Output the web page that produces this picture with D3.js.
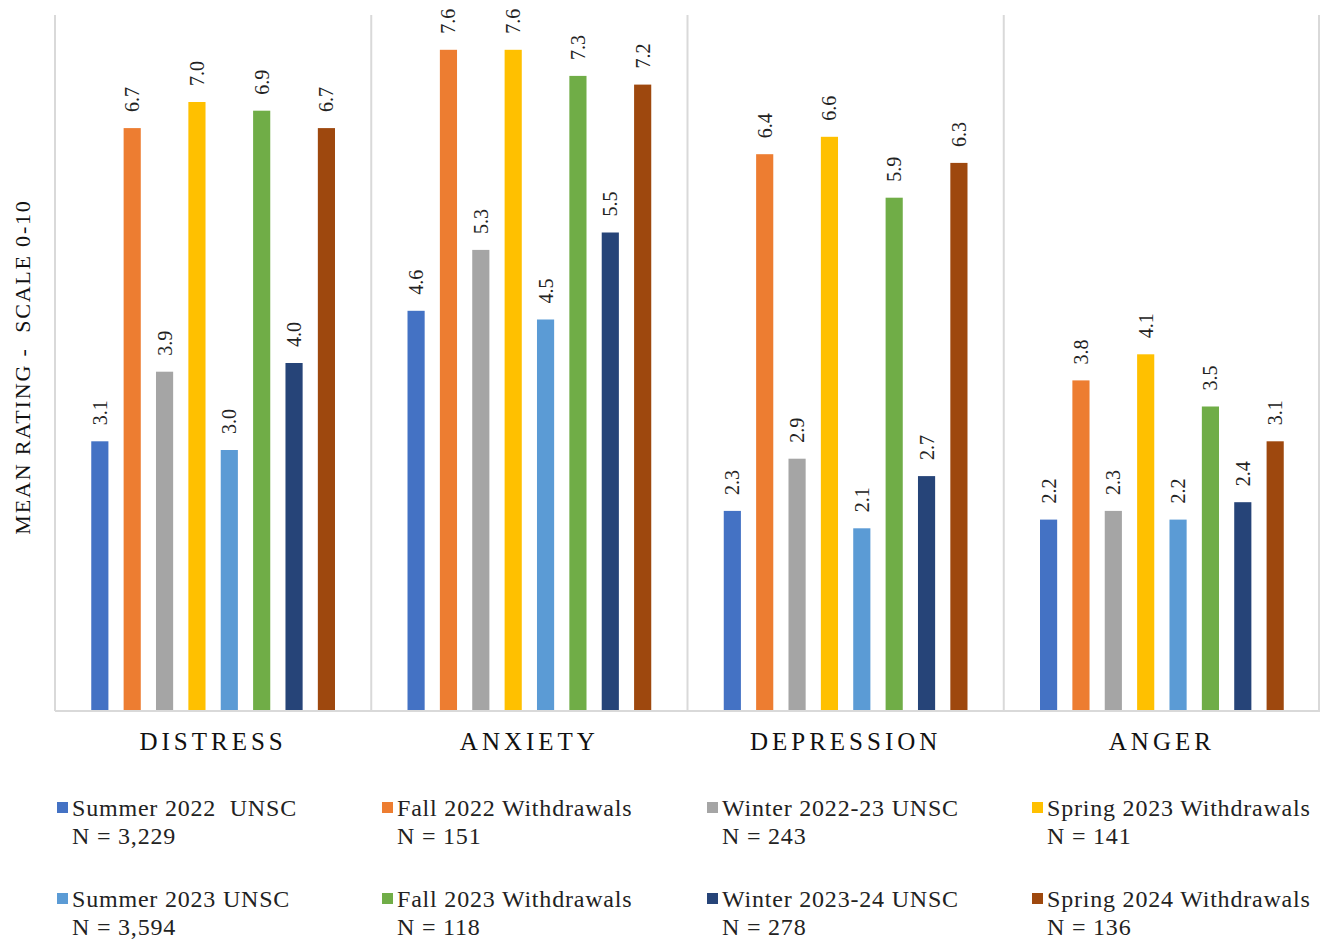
<!DOCTYPE html>
<html>
<head>
<meta charset="utf-8">
<script src="https://cdn.jsdelivr.net/npm/d3@7"></script>
<style>
  body { margin: 0; background: #fff; }
  svg { display: block; font-family: "Liberation Serif", "DejaVu Serif", serif; }
</style>
</head>
<body>
<div id="chart"></div>
<script>
// Categories and series
const categories = ["DISTRESS", "ANXIETY", "DEPRESSION", "ANGER"];
const seriesNames = [
    "Summer 2022  UNSC", "Fall 2022 Withdrawals", "Winter 2022-23 UNSC", "Spring 2023 Withdrawals",
    "Summer 2023 UNSC", "Fall 2023 Withdrawals", "Winter 2023-24 UNSC", "Spring 2024 Withdrawals"
];
const sampleSizes = ["N = 3,229", "N = 151", "N = 243", "N = 141", "N = 3,594", "N = 118", "N = 278", "N = 136"];
const colors = ["#4472C4", "#ED7D31", "#A5A5A5", "#FFC000", "#5B9BD5", "#70AD47", "#264478", "#9E480E"];

// Mean ratings per category, one value per series
const distress   = [3.1, 6.7, 3.9, 7.0, 3.0, 6.9, 4.0, 6.7];
const anxiety    = [4.6, 7.6, 5.3, 7.6, 4.5, 7.3, 5.5, 7.2];
const depression = [2.3, 6.4, 2.9, 6.6, 2.1, 5.9, 2.7, 6.3];
const anger      = [2.2, 3.8, 2.3, 4.1, 2.2, 3.5, 2.4, 3.1];
const valuesByCategory = [distress, anxiety, depression, anger];

const width = 1320, height = 939;
const margin = {top: 15, right: 0, bottom: 228, left: 55};
const plotH = height - margin.top - margin.bottom;

const svg = d3.select("#chart").append("svg")
    .attr("width", width)
    .attr("height", height);

const g = svg.append("g")
    .attr("transform", `translate(${margin.left},${margin.top})`);

// Scales
const x0 = d3.scaleBand()
    .domain(categories)
    .range([0, width - margin.left - margin.right])
    .padding(0);

const x1 = d3.scaleBand()
    .domain(seriesNames)
    .range([0, x0.bandwidth()])
    .paddingInner(0.47)
    .paddingOuter(1.12);

const y = d3.scaleLinear()
    .domain([0, 8])
    .range([plotH, 0]);

// Vertical category separators
const seps = categories.map(c => x0(c)).concat([x0.range()[1] - 1]);
g.selectAll(".sep")
    .data(seps)
    .join("line")
    .attr("class", "sep")
    .attr("x1", d => d).attr("x2", d => d)
    .attr("y1", y(8)).attr("y2", y(0))
    .attr("stroke", "#d9d9d9")
    .attr("stroke-width", 2);

// Bars
const rows = categories.flatMap((c, ci) =>
    seriesNames.map((s, si) => ({cat: c, series: s, idx: si, value: valuesByCategory[ci][si]})));

g.selectAll(".bar")
    .data(rows)
    .join("rect")
    .attr("class", "bar")
    .attr("x", d => x0(d.cat) + x1(d.series))
    .attr("y", d => y(d.value))
    .attr("width", x1.bandwidth())
    .attr("height", d => y(0) - y(d.value))
    .attr("fill", d => colors[d.idx]);

// Baseline
g.append("line")
    .attr("x1", 0).attr("x2", x0.range()[1])
    .attr("y1", y(0)).attr("y2", y(0))
    .attr("stroke", "#d9d9d9")
    .attr("stroke-width", 2);

// Value labels, rotated
g.selectAll(".val")
    .data(rows)
    .join("text")
    .attr("class", "val")
    .attr("transform", d => `translate(${x0(d.cat) + x1(d.series) + x1.bandwidth() / 2},${y(d.value) - 16}) rotate(-90)`)
    .attr("dy", "0.35em")
    .attr("font-size", 20)
    .attr("fill", "#222")
    .text(d => d.value.toFixed(1));

// Category labels
g.selectAll(".cat")
    .data(categories)
    .join("text")
    .attr("class", "cat")
    .attr("x", d => x0(d) + x0.bandwidth() / 2)
    .attr("y", y(0) + 39)
    .attr("text-anchor", "middle")
    .attr("font-size", 25)
    .attr("letter-spacing", 4)
    .attr("fill", "#111")
    .text(d => d);

// Y axis title
svg.append("text")
    .attr("transform", `translate(30,${margin.top + plotH / 2 + 4}) rotate(-90)`)
    .attr("text-anchor", "middle")
    .attr("font-size", 22)
    .attr("letter-spacing", 1.8)
    .attr("fill", "#111")
    .style("white-space", "pre")
    .text("MEAN RATING -  SCALE 0-10");

// Legend: 2 rows x 4 columns
const legend = svg.append("g");
const items = legend.selectAll(".item")
    .data(seriesNames.map((s, i) => ({name: s, n: sampleSizes[i], idx: i})))
    .join("g")
    .attr("class", "item")
    .attr("transform", d => `translate(${57 + (d.idx % 4) * 325},${808 + Math.floor(d.idx / 4) * 91})`);

items.append("rect")
    .attr("x", 0).attr("y", -6)
    .attr("width", 11).attr("height", 11)
    .attr("fill", d => colors[d.idx]);

items.append("text")
    .attr("x", 15).attr("y", 8)
    .attr("font-size", 24)
    .attr("letter-spacing", 0.8)
    .attr("fill", "#222")
    .style("white-space", "pre")
    .text(d => d.name);

items.append("text")
    .attr("x", 15).attr("y", 36)
    .attr("font-size", 24)
    .attr("letter-spacing", 0.8)
    .attr("fill", "#222")
    .text(d => d.n);
</script>
</body>
</html>
